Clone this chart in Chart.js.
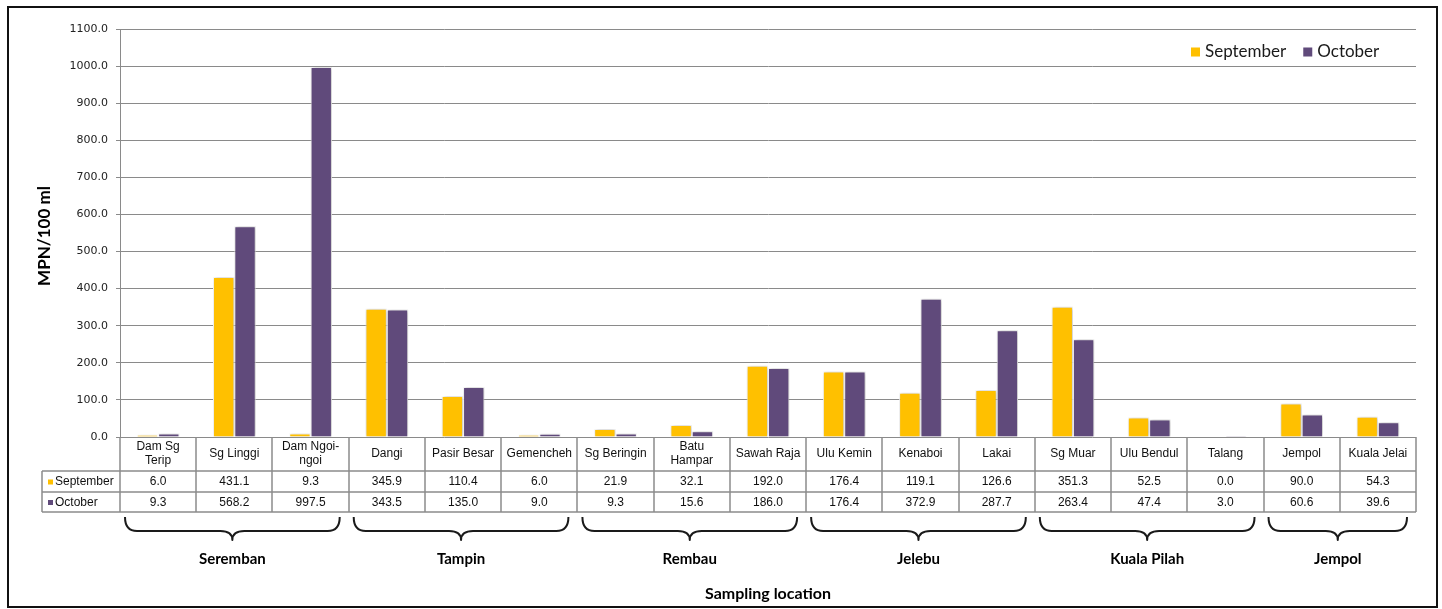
<!DOCTYPE html>
<html>
<head>
<meta charset="utf-8">
<script src="https://cdn.jsdelivr.net/npm/chart.js@4.4.1/dist/chart.umd.min.js"></script>
<style>
  html, body { margin: 0; padding: 0; background: #fff; }
  #wrap { width: 1442px; height: 609px; position: relative; }
</style>
</head>
<body>
<div id="wrap"><canvas id="c"></canvas></div>
<script>
// Sampling locations (multi-line names are wrapped as drawn in the table)
const categories = [
  ['Dam Sg', 'Terip'], 'Sg Linggi', ['Dam Ngoi-', 'ngoi'],
  'Dangi', 'Pasir Besar', 'Gemencheh',
  'Sg Beringin', ['Batu', 'Hampar'], 'Sawah Raja',
  'Ulu Kemin', 'Kenaboi', 'Lakai',
  'Sg Muar', 'Ulu Bendul', 'Talang',
  'Jempol', 'Kuala Jelai'
];
const september = [6.0, 431.1, 9.3, 345.9, 110.4, 6.0, 21.9, 32.1, 192.0, 176.4, 119.1, 126.6, 351.3, 52.5, 0.0, 90.0, 54.3];
const october   = [9.3, 568.2, 997.5, 343.5, 135.0, 9.0, 9.3, 15.6, 186.0, 176.4, 372.9, 287.7, 263.4, 47.4, 3.0, 60.6, 39.6];

// Districts and how many locations each one covers
const districts = ['Seremban', 'Tampin', 'Rembau', 'Jelebu', 'Kuala Pilah', 'Jempol'];
const districtSizes = [3, 3, 3, 3, 3, 2];

const seriesNames = ['September', 'October'];
const seriesColors = ['#FFC000', '#604A7B'];
const yMax = 1100;
const yStep = 100;

const GRID = '#8a8a8a';
const TABLE_LINE = '#8c8c8c';

// Soft halo behind the bars
const barShadow = {
  id: 'barShadow',
  beforeDatasetsDraw(chart) {
    const ctx = chart.ctx;
    ctx.save();
    ctx.shadowColor = 'rgba(0,0,0,0.28)';
    ctx.shadowBlur = 4;
    ctx.shadowOffsetX = 1;
    ctx.shadowOffsetY = 0;
  },
  afterDatasetsDraw(chart) {
    chart.ctx.restore();
  }
};

// Outer frame, axis title, legend, data table, district braces
const decorations = {
  id: 'decorations',
  beforeDraw(chart) {
    const ctx = chart.ctx;
    ctx.save();
    ctx.fillStyle = '#fff';
    ctx.fillRect(0, 0, chart.width, chart.height);
    ctx.restore();
  },
  afterDraw(chart) {
    const ctx = chart.ctx;
    const area = chart.chartArea;
    const xs = chart.scales.x;
    const n = categories.length;
    const colW = (area.right - area.left) / n;
    const top = area.bottom;
    const rowH = top + 34;
    const row1 = rowH + 21;
    const row2 = row1 + 20;
    const legendLeft = 42;

    ctx.save();

    // Frame around the whole figure
    ctx.strokeStyle = '#111';
    ctx.lineWidth = 2;
    ctx.strokeRect(8, 7, 1429, 600);

    // Y axis title
    ctx.save();
    ctx.translate(45, (area.top + area.bottom) / 2 + 3);
    ctx.rotate(-Math.PI / 2);
    ctx.font = 'bold 17px Lato, "Open Sans", sans-serif';
    ctx.fillStyle = '#000';
    ctx.textAlign = 'center';
    ctx.textBaseline = 'middle';
    ctx.fillText('MPN/100 ml', 0, 0);
    ctx.restore();

    // Legend in the top right of the plot
    ctx.font = '17px Lato, "Open Sans", sans-serif';
    ctx.textBaseline = 'middle';
    ctx.textAlign = 'left';
    let lx = 1191;
    const ly = 52;
    seriesNames.forEach((name, i) => {
      ctx.fillStyle = seriesColors[i];
      ctx.fillRect(lx, ly - 4.5, 9, 9);
      ctx.fillStyle = '#1a1a1a';
      ctx.fillText(name, lx + 14, ly);
      lx += 14 + ctx.measureText(name).width + 17;
    });

    // Data table grid
    ctx.strokeStyle = TABLE_LINE;
    ctx.lineWidth = 1.5;
    ctx.beginPath();
    [rowH, row1, row2].forEach(y => {
      ctx.moveTo(legendLeft, y);
      ctx.lineTo(area.right, y);
    });
    for (let i = 0; i <= n; i++) {
      const x = Math.round(area.left + i * colW);
      ctx.moveTo(x, top);
      ctx.lineTo(x, row2);
    }
    ctx.moveTo(legendLeft, rowH);
    ctx.lineTo(legendLeft, row2);
    ctx.stroke();

    // Table text
    ctx.fillStyle = '#111';
    ctx.font = '12px "Liberation Sans", Arial, sans-serif';
    ctx.textAlign = 'center';
    ctx.textBaseline = 'middle';
    categories.forEach((label, i) => {
      const cx = xs.getPixelForValue(i);
      const lines = Array.isArray(label) ? label : [label];
      const mid = (top + rowH) / 2;
      lines.forEach((ln, k) => {
        ctx.fillText(ln, cx, mid + (k - (lines.length - 1) / 2) * 14);
      });
      ctx.fillText(september[i].toFixed(1), cx, (rowH + row1) / 2 + 0.5);
      ctx.fillText(october[i].toFixed(1), cx, (row1 + row2) / 2 + 0.5);
    });

    // Series keys in the table
    ctx.textAlign = 'left';
    [[rowH, row1], [row1, row2]].forEach((r, i) => {
      const cy = (r[0] + r[1]) / 2 + 0.5;
      ctx.fillStyle = seriesColors[i];
      ctx.fillRect(legendLeft + 6, cy - 2.5, 5, 5);
      ctx.fillStyle = '#111';
      ctx.fillText(seriesNames[i], legendLeft + 13, cy);
    });

    // District braces and names
    ctx.strokeStyle = '#1a1a1a';
    ctx.lineWidth = 2;
    ctx.lineJoin = 'round';
    let start = 0;
    districts.forEach((name, g) => {
      const size = districtSizes[g];
      const x1 = area.left + start * colW + 5;
      const x2 = area.left + (start + size) * colW - 9;
      const xm = (x1 + x2) / 2;
      const y0 = 517, ym = 531, yt = 540;
      const r = 12;
      ctx.beginPath();
      ctx.moveTo(x1, y0);
      ctx.quadraticCurveTo(x1, ym, x1 + r, ym);
      ctx.lineTo(xm - r, ym);
      ctx.quadraticCurveTo(xm, ym, xm, yt);
      ctx.quadraticCurveTo(xm, ym, xm + r, ym);
      ctx.lineTo(x2 - r, ym);
      ctx.quadraticCurveTo(x2, ym, x2, y0);
      ctx.stroke();

      ctx.font = 'bold 15px Lato, "Open Sans", sans-serif';
      ctx.fillStyle = '#000';
      ctx.textAlign = 'center';
      ctx.textBaseline = 'middle';
      ctx.fillText(name, xm, 559);
      start += size;
    });

    // X axis title
    ctx.font = 'bold 16px Lato, "Open Sans", sans-serif';
    ctx.fillText('Sampling location', (area.left + area.right) / 2, 594);

    ctx.restore();
  }
};

new Chart(document.getElementById('c'), {
  type: 'bar',
  data: {
    labels: categories,
    datasets: seriesNames.map((name, i) => ({
      label: name,
      data: i === 0 ? september : october,
      backgroundColor: seriesColors[i],
      borderColor: '#ffffff',
      borderWidth: 1,
      categoryPercentage: 0.56,
      barPercentage: 1.0
    }))
  },
  options: {
    responsive: true,
    maintainAspectRatio: false,
    animation: false,
    layout: { padding: { left: 0, top: 29, right: 26, bottom: 172 } },
    plugins: {
      legend: { display: false },
      tooltip: { enabled: false }
    },
    scales: {
      x: { display: false },
      y: {
        min: 0,
        max: yMax,
        afterFit(scale) { scale.width = 120; },
        ticks: {
          stepSize: yStep,
          padding: 8,
          color: '#222',
          font: { family: '"DejaVu Sans", Verdana, sans-serif', size: 11 },
          callback: v => v.toFixed(1)
        },
        grid: { color: GRID, lineWidth: 1, tickLength: 4, tickColor: GRID },
        border: { color: GRID, width: 1 }
      }
    }
  },
  plugins: [barShadow, decorations]
});
</script>
</body>
</html>
